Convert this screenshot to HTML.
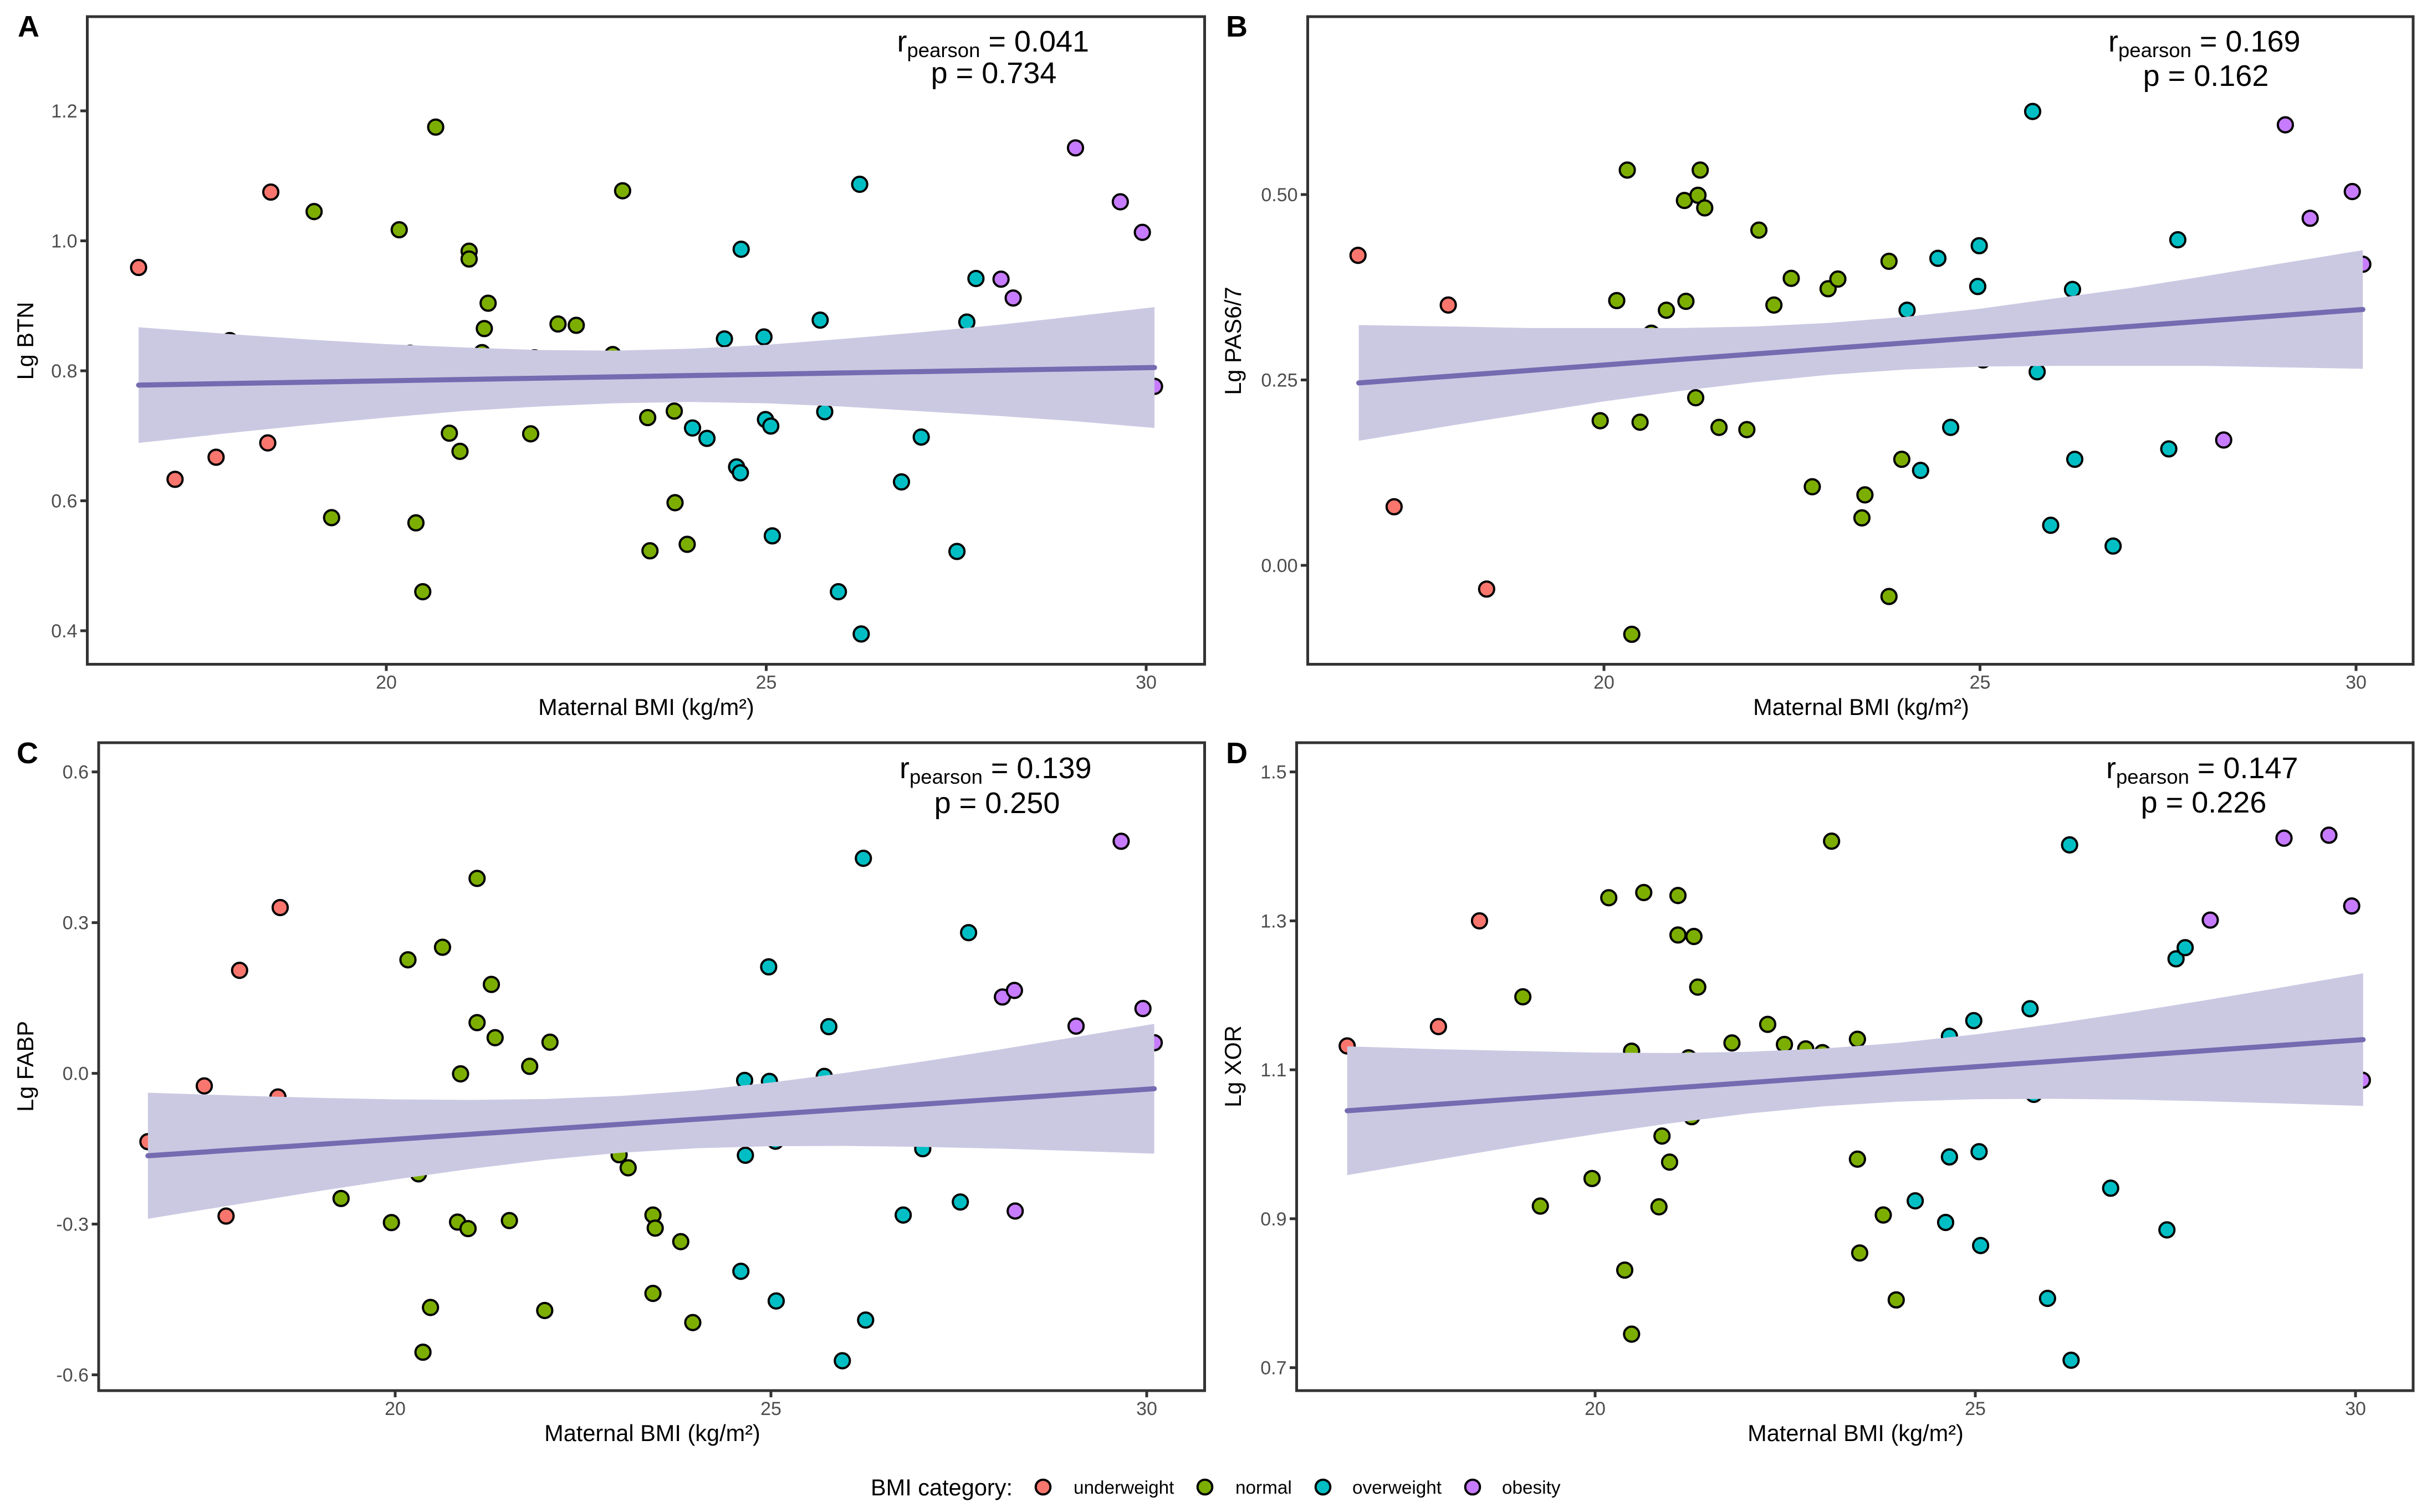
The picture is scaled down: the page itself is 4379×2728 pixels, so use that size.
<!DOCTYPE html>
<html lang="en">
<head>
<meta charset="utf-8">
<title>Maternal BMI correlations</title>
<style>
html,body{margin:0;padding:0;background:#fff;}
body{width:4379px;height:2728px;overflow:hidden;}
svg{display:block;font-family:"Liberation Sans",Arial,sans-serif;}
.frame{fill:none;stroke:#333333;stroke-width:5;}
.axis-title{font-size:41.5px;fill:#000;}
.panel-tag{font-size:54px;font-weight:bold;fill:#000;}
.stat{font-size:54px;fill:#000;}
.stat-sub{font-size:36.5px;}
.tick-label{font-size:34px;fill:#4D4D4D;}
.legend-title{font-size:41.5px;fill:#000;}
.legend-label{font-size:33.3px;fill:#000;}
</style>
</head>
<body>
<svg id="figure" xmlns="http://www.w3.org/2000/svg" width="4379" height="2728" viewBox="0 0 4379 2728">
  <rect x="0" y="0" width="4379" height="2728" fill="#ffffff"/>

  <g id="panel-a"></g>
  <g id="panel-b"></g>
  <g id="panel-c"></g>
  <g id="panel-d"></g>

  <rect class="frame" x="157.5" y="30" width="2016" height="1168.5"/>
  <rect class="frame" x="2359.5" y="30" width="1994.5" height="1168.5"/>
  <rect class="frame" x="178" y="1340" width="1995.5" height="1169"/>
  <rect class="frame" x="2339.5" y="1340" width="2014.5" height="1169"/>

  <text class="panel-tag" x="32" y="66">A</text>
  <text class="panel-tag" x="2212" y="66">B</text>
  <text class="panel-tag" x="30" y="1377">C</text>
  <text class="panel-tag" x="2212" y="1377">D</text>

  <text class="axis-title" x="1166" y="1290" text-anchor="middle">Maternal BMI (kg/m²)</text>
  <text class="axis-title" x="3358" y="1290" text-anchor="middle">Maternal BMI (kg/m²)</text>
  <text class="axis-title" x="1177" y="2600" text-anchor="middle">Maternal BMI (kg/m²)</text>
  <text class="axis-title" x="3348" y="2600" text-anchor="middle">Maternal BMI (kg/m²)</text>

  <text class="axis-title" transform="translate(60 615) rotate(-90)" text-anchor="middle">Lg BTN</text>
  <text class="axis-title" transform="translate(2239 615) rotate(-90)" text-anchor="middle">Lg PAS6/7</text>
  <text class="axis-title" transform="translate(60 1924) rotate(-90)" text-anchor="middle">Lg FABP</text>
  <text class="axis-title" transform="translate(2239 1924) rotate(-90)" text-anchor="middle">Lg XOR</text>

  <g>
    <text class="stat" x="1618.5" y="93">r<tspan class="stat-sub" dy="10">pearson</tspan><tspan dy="-10"> = 0.041</tspan></text>
    <text class="stat" x="1793" y="150" text-anchor="middle">p = 0.734</text>
  </g>
  <g>
    <text class="stat" x="3804" y="93">r<tspan class="stat-sub" dy="10">pearson</tspan><tspan dy="-10"> = 0.169</tspan></text>
    <text class="stat" x="3980" y="155" text-anchor="middle">p = 0.162</text>
  </g>
  <g>
    <text class="stat" x="1623" y="1404">r<tspan class="stat-sub" dy="10">pearson</tspan><tspan dy="-10"> = 0.139</tspan></text>
    <text class="stat" x="1799" y="1467" text-anchor="middle">p = 0.250</text>
  </g>
  <g>
    <text class="stat" x="3800" y="1404">r<tspan class="stat-sub" dy="10">pearson</tspan><tspan dy="-10"> = 0.147</tspan></text>
    <text class="stat" x="3976" y="1466" text-anchor="middle">p = 0.226</text>
  </g>

  <g>
    <text class="legend-title" x="1571" y="2698">BMI category:</text>
    <g>
      <circle cx="1882" cy="2683" r="13.3" fill="#F8766D" stroke="#000" stroke-width="4"/>
      <text class="legend-label" x="1937" y="2695">underweight</text>
    </g>
    <g>
      <circle cx="2174" cy="2683" r="13.3" fill="#7CAE00" stroke="#000" stroke-width="4"/>
      <text class="legend-label" x="2229" y="2695">normal</text>
    </g>
    <g>
      <circle cx="2387" cy="2683" r="13.3" fill="#00BFC4" stroke="#000" stroke-width="4"/>
      <text class="legend-label" x="2440" y="2695">overweight</text>
    </g>
    <g>
      <circle cx="2657" cy="2683" r="13.3" fill="#C77CFF" stroke="#000" stroke-width="4"/>
      <text class="legend-label" x="2710" y="2695">obesity</text>
    </g>
  </g>
</svg>

<script>
/* ---------- shared tick values ---------- */
const xTickValues = [20, 25, 30];
const panelAYTicks = ['0.4', '0.6', '0.8', '1.0', '1.2'];
const panelBYTicks = ['0.00', '0.25', '0.50'];
const panelCYTicks = ['-0.6', '-0.3', '0.0', '0.3', '0.6'];
const panelDYTicks = ['0.7', '0.9', '1.1', '1.3', '1.5'];

/* ---------- Panel A: Lg BTN ---------- */
const aUnderweightBmi = [16.74, 17.22, 17.76, 17.94, 18.44, 18.48];
const aUnderweightLg = [0.959, 0.633, 0.667, 0.8465, 0.689, 1.075];
const aNormalBmi = [19.05, 19.28, 20.17, 20.31, 20.39, 20.48, 20.65, 20.83, 20.97, 21.09, 21.09, 21.26, 21.29, 21.34, 21.90, 21.95, 22.26, 22.50, 22.98, 23.11, 23.44, 23.47, 23.79, 23.80, 23.96];
const aNormalLg = [1.045, 0.574, 1.017, 0.827, 0.566, 0.460, 1.175, 0.704, 0.676, 0.984, 0.972, 0.828, 0.865, 0.904, 0.703, 0.820, 0.872, 0.870, 0.825, 1.077, 0.728, 0.523, 0.738, 0.597, 0.533];
const aOverweightBmi = [24.03, 24.22, 24.45, 24.61, 24.66, 24.67, 24.97, 24.99, 25.06, 25.08, 25.71, 25.77, 25.95, 26.23, 26.25, 26.78, 27.04, 27.51, 27.64, 27.76];
const aOverweightLg = [0.712, 0.696, 0.849, 0.652, 0.643, 0.987, 0.852, 0.725, 0.715, 0.546, 0.878, 0.737, 0.460, 1.087, 0.395, 0.629, 0.698, 0.522, 0.875, 0.942];
const aObesityBmi = [28.09, 28.25, 29.07, 29.66, 29.95, 30.11];
const aObesityLg = [0.941, 0.912, 1.143, 1.060, 1.013, 0.776];
const aBandBmi = [16.74, 18, 19, 20, 21, 22, 23, 24, 25, 26, 27, 28, 29, 30.11];
const aBandUpper = [0.867, 0.856, 0.848, 0.841, 0.836, 0.832, 0.831, 0.834, 0.840, 0.849, 0.859, 0.870, 0.883, 0.898];
const aBandLower = [0.689, 0.705, 0.717, 0.728, 0.738, 0.745, 0.750, 0.752, 0.750, 0.745, 0.738, 0.731, 0.723, 0.712];
const aFitBmi = [16.74, 30.11];
const aFitLg = [0.778, 0.805];

/* ---------- Panel B: Lg PAS6/7 ---------- */
const bUnderweightBmi = [16.73, 17.21, 17.93, 18.44];
const bUnderweightLg = [0.418, 0.079, 0.351, -0.032];
const bNormalBmi = [19.95, 20.17, 20.31, 20.37, 20.48, 20.63, 20.83, 21.07, 21.09, 21.22, 21.25, 21.28, 21.34, 21.53, 21.90, 22.06, 22.26, 22.49, 22.77, 22.98, 23.11, 23.43, 23.47, 23.79, 23.79, 23.96];
const bNormalLg = [0.195, 0.357, 0.533, -0.093, 0.193, 0.313, 0.344, 0.492, 0.356, 0.226, 0.499, 0.533, 0.482, 0.186, 0.183, 0.452, 0.351, 0.387, 0.106, 0.373, 0.386, 0.064, 0.095, 0.410, -0.042, 0.143];
const bOverweightBmi = [24.03, 24.21, 24.44, 24.61, 24.97, 24.99, 25.04, 25.70, 25.76, 25.94, 26.23, 26.26, 26.77, 27.51, 27.63];
const bOverweightLg = [0.344, 0.128, 0.414, 0.186, 0.376, 0.431, 0.277, 0.612, 0.261, 0.054, 0.372, 0.143, 0.026, 0.157, 0.439];
const bObesityBmi = [28.24, 29.06, 29.39, 29.95, 30.09];
const bObesityLg = [0.169, 0.594, 0.468, 0.504, 0.406];
const bBandBmi = [16.74, 18, 19, 20, 21, 22, 23, 24, 25, 26, 27, 28, 29, 30.09];
const bBandUpper = [0.324, 0.322, 0.320, 0.320, 0.320, 0.322, 0.327, 0.335, 0.346, 0.360, 0.374, 0.390, 0.407, 0.425];
const bBandLower = [0.168, 0.189, 0.205, 0.221, 0.235, 0.247, 0.257, 0.264, 0.268, 0.269, 0.269, 0.269, 0.267, 0.265];
const bFitBmi = [16.74, 30.09];
const bFitLg = [0.246, 0.345];

/* ---------- Panel C: Lg FABP ---------- */
const cUnderweightBmi = [16.71, 17.46, 17.75, 17.93, 18.44, 18.47];
const cUnderweightLg = [-0.136, -0.025, -0.284, 0.205, -0.047, 0.330];
const cNormalBmi = [19.28, 19.95, 20.17, 20.31, 20.37, 20.47, 20.63, 20.83, 20.87, 20.97, 21.09, 21.09, 21.28, 21.33, 21.52, 21.79, 21.99, 22.06, 22.98, 23.10, 23.43, 23.43, 23.46, 23.80, 23.96];
const cNormalLg = [-0.249, -0.297, 0.226, -0.200, -0.555, -0.466, 0.251, -0.296, -0.001, -0.309, 0.388, 0.101, 0.177, 0.071, -0.293, 0.014, -0.472, 0.062, -0.162, -0.188, -0.282, -0.438, -0.308, -0.335, -0.496];
const cOverweightBmi = [24.60, 24.65, 24.66, 24.97, 24.98, 25.06, 25.07, 25.71, 25.77, 25.95, 26.23, 26.26, 26.76, 27.02, 27.52, 27.63];
const cOverweightLg = [-0.394, -0.014, -0.163, 0.212, -0.016, -0.135, -0.453, -0.006, 0.093, -0.572, 0.428, -0.491, -0.282, -0.150, -0.256, 0.280];
const cObesityBmi = [28.08, 28.24, 28.25, 29.06, 29.66, 29.95, 30.10];
const cObesityLg = [0.152, 0.165, -0.274, 0.094, 0.462, 0.129, 0.061];
const cBandBmi = [16.71, 18, 19, 20, 21, 22, 23, 24, 25, 26, 27, 28, 29, 30.10];
const cBandUpper = [-0.0385, -0.0447, -0.0488, -0.0518, -0.0528, -0.051, -0.045, -0.0341, -0.0182, 0.0012, 0.0231, 0.0465, 0.071, 0.0986];
const cBandLower = [-0.2895, -0.2581, -0.234, -0.2112, -0.1902, -0.172, -0.158, -0.1491, -0.145, -0.1444, -0.1463, -0.1497, -0.1542, -0.1598];
const cFitBmi = [16.71, 30.10];
const cFitLg = [-0.164, -0.0306];

/* ---------- Panel D: Lg XOR ---------- */
const dUnderweightBmi = [16.74, 17.94, 18.48];
const dUnderweightLg = [1.132, 1.158, 1.300];
const dNormalBmi = [19.05, 19.28, 19.96, 20.18, 20.39, 20.48, 20.48, 20.64, 20.84, 20.88, 20.98, 21.09, 21.09, 21.23, 21.27, 21.30, 21.35, 21.80, 22.27, 22.49, 22.77, 22.99, 23.11, 23.45, 23.45, 23.48, 23.79, 23.96];
const dNormalLg = [1.198, 0.917, 0.954, 1.331, 0.831, 1.125, 0.745, 1.338, 0.916, 1.011, 0.976, 1.334, 1.281, 1.116, 1.037, 1.279, 1.211, 1.136, 1.161, 1.134, 1.128, 1.123, 1.407, 1.141, 0.980, 0.854, 0.905, 0.791];
const dOverweightBmi = [24.21, 24.61, 24.66, 24.66, 24.98, 25.05, 25.07, 25.72, 25.77, 25.95, 26.24, 26.26, 26.78, 27.52, 27.64, 27.76];
const dOverweightLg = [0.924, 0.895, 1.145, 0.983, 1.166, 0.990, 0.864, 1.182, 1.067, 0.793, 1.402, 0.710, 0.941, 0.885, 1.249, 1.264];
const dObesityBmi = [28.09, 29.06, 29.65, 29.95, 30.09];
const dObesityLg = [1.301, 1.411, 1.415, 1.320, 1.086];
const dBandBmi = [16.74, 18, 19, 20, 21, 22, 23, 24, 25, 26, 27, 28, 29, 30.10];
const dBandUpper = [1.1315, 1.1275, 1.1252, 1.1231, 1.1225, 1.1241, 1.1285, 1.1363, 1.1475, 1.1612, 1.1766, 1.193, 1.2101, 1.2295];
const dBandLower = [0.9585, 0.9805, 0.9978, 1.0135, 1.0283, 1.0411, 1.0509, 1.0573, 1.0605, 1.061, 1.06, 1.0578, 1.0549, 1.0515];
const dFitBmi = [16.74, 30.10];
const dFitLg = [1.045, 1.1405];

/* ---------- rendering ---------- */
const NS = 'http://www.w3.org/2000/svg';
const categoryColors = { underweight: '#F8766D', normal: '#7CAE00', overweight: '#00BFC4', obesity: '#C77CFF' };

function make(tag, attrs, parent) {
  const node = document.createElementNS(NS, tag);
  for (const key in attrs) node.setAttribute(key, attrs[key]);
  parent.appendChild(node);
  return node;
}

function linearScale(d0, d1, p0, p1) {
  return function (v) { return p0 + (v - d0) * (p1 - p0) / (d1 - d0); };
}

function drawPanel(opts) {
  const root = document.getElementById(opts.id);
  const x = opts.x;
  const y = opts.y;

  opts.series.forEach(function (s) {
    s.bmi.forEach(function (b, i) {
      const el = make('circle', { cx: x(b), cy: y(s.lg[i]), r: 13.6, fill: categoryColors[s.name], stroke: '#000', 'stroke-width': 4 }, root);
      
      
    });
  });

  const upperPts = opts.bandBmi.map(function (b, i) { return x(b) + ',' + y(opts.bandUpper[i]); });
  const lowerPts = opts.bandBmi.map(function (b, i) { return x(b) + ',' + y(opts.bandLower[i]); }).reverse();
  const band = make('polygon', { points: upperPts.concat(lowerPts).join(' '), fill: '#CBC9E2' }, root);
  
  

  const fit = make('line', { x1: x(opts.fitBmi[0]), y1: y(opts.fitLg[0]), x2: x(opts.fitBmi[1]), y2: y(opts.fitLg[1]), stroke: '#756BB1', 'stroke-width': 9.2, 'stroke-linecap': 'round' }, root);
  
  

  xTickValues.forEach(function (t) {
    const mark = make('line', { x1: x(t), x2: x(t), y1: opts.bottom, y2: opts.bottom + 12, stroke: '#333333', 'stroke-width': 5 }, root);
    
    
    const label = make('text', { x: x(t), y: opts.bottom + 44, 'text-anchor': 'middle', 'class': 'tick-label' }, root);
    
    
    label.textContent = String(t);
  });

  opts.yTicks.forEach(function (t) {
    const v = parseFloat(t);
    const mark = make('line', { x1: opts.left - 12.5, x2: opts.left, y1: y(v), y2: y(v), stroke: '#333333', 'stroke-width': 5 }, root);
    
    
    const label = make('text', { x: opts.left - 18, y: y(v) + 12, 'text-anchor': 'end', 'class': 'tick-label' }, root);
    
    
    label.textContent = t;
  });
}

drawPanel({
  id: 'panel-a', left: 157.5, bottom: 1198.5,
  x: linearScale(20, 30, 697, 2068), y: linearScale(0.4, 1.2, 1138, 200),
  yTicks: panelAYTicks,
  series: [
    { name: 'underweight', bmi: aUnderweightBmi, lg: aUnderweightLg },
    { name: 'normal', bmi: aNormalBmi, lg: aNormalLg },
    { name: 'overweight', bmi: aOverweightBmi, lg: aOverweightLg },
    { name: 'obesity', bmi: aObesityBmi, lg: aObesityLg }
  ],
  bandBmi: aBandBmi, bandUpper: aBandUpper, bandLower: aBandLower, fitBmi: aFitBmi, fitLg: aFitLg
});

drawPanel({
  id: 'panel-b', left: 2359.5, bottom: 1198.5,
  x: linearScale(20, 30, 2894, 4251), y: linearScale(0, 0.5, 1020, 351),
  yTicks: panelBYTicks,
  series: [
    { name: 'underweight', bmi: bUnderweightBmi, lg: bUnderweightLg },
    { name: 'normal', bmi: bNormalBmi, lg: bNormalLg },
    { name: 'overweight', bmi: bOverweightBmi, lg: bOverweightLg },
    { name: 'obesity', bmi: bObesityBmi, lg: bObesityLg }
  ],
  bandBmi: bBandBmi, bandUpper: bBandUpper, bandLower: bBandLower, fitBmi: bFitBmi, fitLg: bFitLg
});

drawPanel({
  id: 'panel-c', left: 178, bottom: 2509,
  x: linearScale(20, 30, 713, 2069), y: linearScale(-0.6, 0.6, 2480.5, 1392.7),
  yTicks: panelCYTicks,
  series: [
    { name: 'underweight', bmi: cUnderweightBmi, lg: cUnderweightLg },
    { name: 'normal', bmi: cNormalBmi, lg: cNormalLg },
    { name: 'overweight', bmi: cOverweightBmi, lg: cOverweightLg },
    { name: 'obesity', bmi: cObesityBmi, lg: cObesityLg }
  ],
  bandBmi: cBandBmi, bandUpper: cBandUpper, bandLower: cBandLower, fitBmi: cFitBmi, fitLg: cFitLg
});

drawPanel({
  id: 'panel-d', left: 2339.5, bottom: 2509,
  x: linearScale(20, 30, 2878, 4250), y: linearScale(0.7, 1.5, 2467.6, 1392.7),
  yTicks: panelDYTicks,
  series: [
    { name: 'underweight', bmi: dUnderweightBmi, lg: dUnderweightLg },
    { name: 'normal', bmi: dNormalBmi, lg: dNormalLg },
    { name: 'overweight', bmi: dOverweightBmi, lg: dOverweightLg },
    { name: 'obesity', bmi: dObesityBmi, lg: dObesityLg }
  ],
  bandBmi: dBandBmi, bandUpper: dBandUpper, bandLower: dBandLower, fitBmi: dFitBmi, fitLg: dFitLg
});
</script>
</body>
</html>
